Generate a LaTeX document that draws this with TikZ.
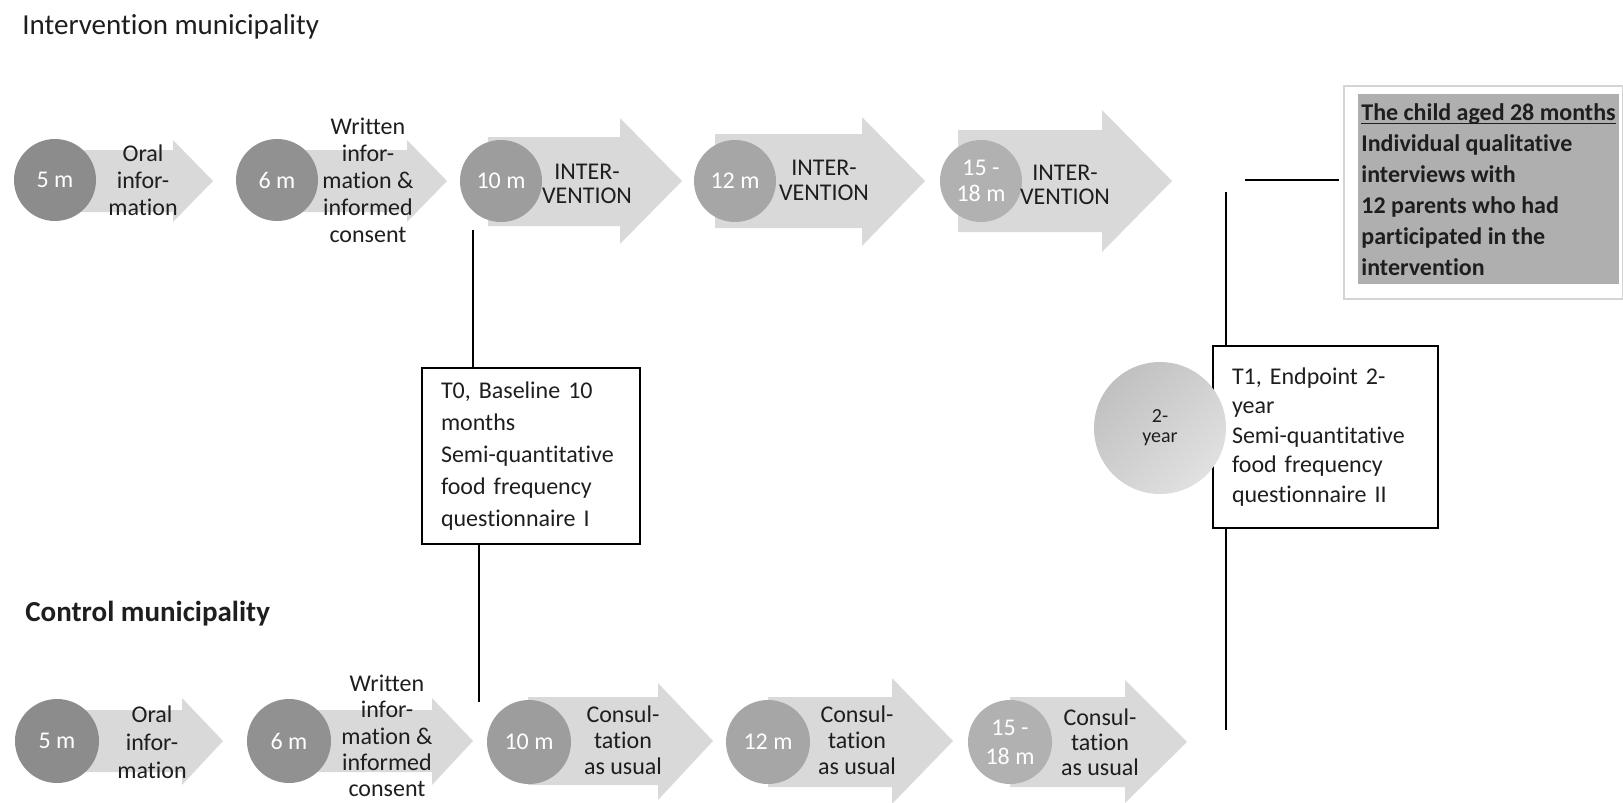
\documentclass[tikz,border=0pt]{standalone}
\usepackage{amsmath}
\usepackage{fontspec}
\setmainfont{Carlito}[Ligatures=NoCommon]

\definecolor{MArrow}{HTML}{D9D9D9}
\definecolor{MGrayA}{HTML}{8C8C8C}
\definecolor{MGrayB}{HTML}{919191}
\definecolor{MGrayC}{HTML}{9D9D9D}
\definecolor{MGrayD}{HTML}{A6A6A6}
\definecolor{MGrayE}{HTML}{B1B1B1}
\definecolor{MBox}{HTML}{AFAFAF}
\definecolor{MFrame}{HTML}{D4D4D4}
\definecolor{MText}{HTML}{1E1E1E}

\begin{document}
\begin{tikzpicture}[x=0.5pt, y=-0.5pt,
		every node/.style={text=MText},
		stage/.style={circle, minimum size=41pt, inner sep=0pt, text=white, align=center, font=\fontsize{12}{13}\selectfont},
		phasetxt/.style={align=center, font=\fontsize{12}{13.5}\selectfont},
		infobox/.style={draw=black, line width=1pt, align=left, inner xsep=9.5pt, anchor=north west},
		link/.style={black, line width=1pt}]
			\useasboundingbox (0,0) rectangle (1623,803);

			\node[anchor=west, inner sep=0pt, font=\fontsize{14.5}{17}\selectfont] (inttitle) at (22,27) {Intervention municipality};
			\node[anchor=west, inner sep=0pt, font=\bfseries\fontsize{14.5}{17}\selectfont] (ctrltitle) at (25,614) {Control municipality};

			% intervention row
			\fill[MArrow] (63,150) -- (173,150) -- (173,140) -- (213,181) -- (173,222) -- (173,212) -- (63,212) -- cycle;
			\fill[MArrow] (275,150) -- (407,150) -- (407,140) -- (447,181) -- (407,222) -- (407,212) -- (275,212) -- cycle;
			\fill[MArrow] (488,137) -- (620,137) -- (620,118) -- (682,181) -- (620,244) -- (620,226) -- (488,226) -- cycle;
			\fill[MArrow] (715,134) -- (862,134) -- (862,117) -- (925,181) -- (862,246) -- (862,228) -- (715,228) -- cycle;
			\fill[MArrow] (958,130) -- (1102,130) -- (1102,110) -- (1172,181) -- (1102,252) -- (1102,232) -- (958,232) -- cycle;

			\node[stage, fill=MGrayA] (int5) at (55,180) {5 m};
			\node[stage, fill=MGrayB] (int6) at (277,180) {6 m};
			\node[stage, fill=MGrayC] (int10) at (501,181) {10 m};
			\node[stage, fill=MGrayD] (int12) at (735,181) {12 m};
			\node[stage, fill=MGrayE] (int15) at (981,181) {15 -\\18 m};

			\node[phasetxt] (intoral) at (143,180) {Oral\\infor-\\mation};
			\node[phasetxt] (intwritten) at (368,180) {Written\\infor-\\mation \&\\informed\\consent};
			\node[phasetxt, font=\fontsize{12}{12}\selectfont] (intphaseA) at (587,184) {INTER-\\VENTION};
			\node[phasetxt, font=\fontsize{12}{12.5}\selectfont] (intphaseB) at (824,180) {INTER-\\VENTION};
			\node[phasetxt, font=\fontsize{12}{12}\selectfont] (intphaseC) at (1065,185) {INTER-\\VENTION};

			% control row
			\fill[MArrow] (65,710) -- (182,710) -- (182,698) -- (223,741) -- (182,785) -- (182,772) -- (65,772) -- cycle;
			\fill[MArrow] (282,710) -- (432,710) -- (432,698) -- (473,741) -- (432,785) -- (432,772) -- (282,772) -- cycle;
			\fill[MArrow] (528,697) -- (658,697) -- (658,683) -- (713,741) -- (658,800) -- (658,785) -- (528,785) -- cycle;
			\fill[MArrow] (768,697) -- (892,697) -- (892,678) -- (953,741) -- (892,804) -- (892,787) -- (768,787) -- cycle;
			\fill[MArrow] (1010,697) -- (1125,697) -- (1125,680) -- (1187,742) -- (1125,803) -- (1125,787) -- (1010,787) -- cycle;

			\node[stage, fill=MGrayA, minimum size=42pt] (ctrl5) at (57,741) {5 m};
			\node[stage, fill=MGrayB, minimum size=42pt] (ctrl6) at (289,741) {6 m};
			\node[stage, fill=MGrayC, minimum size=42pt] (ctrl10) at (529,742) {10 m};
			\node[stage, fill=MGrayD, minimum size=42pt] (ctrl12) at (768,742) {12 m};
			\node[stage, fill=MGrayE, minimum size=42pt, font=\fontsize{12}{14.5}\selectfont] (ctrl15) at (1010,742) {15 -\\18 m};

			\node[phasetxt, font=\fontsize{12}{14}\selectfont] (ctrloral) at (152,742) {Oral\\infor-\\mation};
			\node[phasetxt, font=\fontsize{12}{13.2}\selectfont] (ctrlwritten) at (387,736) {Written\\infor-\\mation \&\\informed\\consent};
			\node[phasetxt, font=\fontsize{12}{13}\selectfont] (ctrlphaseA) at (623,740) {Consul-\\tation\\as usual};
			\node[phasetxt, font=\fontsize{12}{13}\selectfont] (ctrlphaseB) at (857,740) {Consul-\\tation\\as usual};
			\node[phasetxt, font=\fontsize{12}{12.5}\selectfont] (ctrlphaseC) at (1100,742) {Consul-\\tation\\as usual};

			% measurement boxes
			\node[infobox, text width=90pt, minimum height=88pt, font=\fontsize{12}{16}\selectfont] (t0) at (421,367) {T0, Baseline 10\\months\\Semi-quantitative\\food frequency\\questionnaire I};
			\node[infobox, text width=93.5pt, minimum height=91pt, font=\fontsize{12}{14.75}\selectfont] (t1) at (1212,345) {T1, Endpoint 2-\\year\\Semi-quantitative\\food frequency\\questionnaire II};
			\node[circle, minimum size=66pt, inner sep=0pt, top color=MGrayE!80, bottom color=MArrow!80!white, shading angle=45, align=center, font=\fontsize{10}{10}\selectfont] (year2) at (1160,428) {2-\\year};

			\node[draw=MFrame, line width=1pt, fill=white, anchor=north west, inner sep=0pt, minimum width=139.5pt, minimum height=106.5pt] (kidframe) at (1343,85) {};
			\node[fill=MBox, anchor=north west, align=left, inner xsep=1.5pt, inner ysep=2pt, minimum width=129pt, minimum height=95pt, font=\bfseries\fontsize{12}{15.5}\selectfont] (kidbox) at (1358,94) {\underline{\smash[b]{The child aged 28 months}}\\Individual qualitative\\interviews with\\12 parents who had\\participated in the\\intervention};

			% connecting lines
			\coordinate (t0up) at (473,230);
			\coordinate (t0down) at (479,702);
			\coordinate (t1up) at (1226,192);
			\coordinate (t1down) at (1226,730);
			\coordinate (kidlink) at (1245,180);
			\draw[link] (t0up) -- (t0up |- t0.north);
			\draw[link] (t0down |- t0.south) -- (t0down);
			\draw[link] (t1up) -- (t1up |- t1.north);
			\draw[link] (t1down |- t1.south) -- (t1down);
			\draw[link, shorten >=2pt] (kidlink) -- (kidlink -| kidframe.west);
		\end{tikzpicture}
\end{document}
